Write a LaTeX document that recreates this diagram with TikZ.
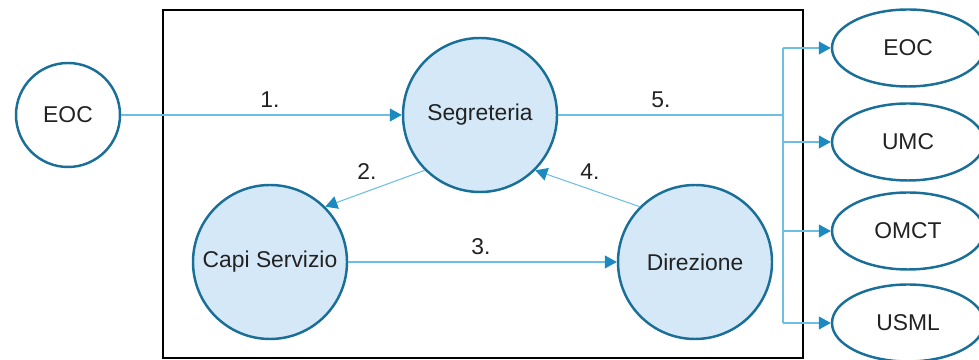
\documentclass[tikz,border=0pt]{standalone}
\usepackage{fontspec}
\setmainfont{Liberation Sans}
\usepackage{tikz}
\usetikzlibrary{positioning,arrows.meta,shapes.geometric}

\definecolor{rimblue}{HTML}{1A6F99}
\definecolor{fillblue}{HTML}{D5E8F7}
\definecolor{lineblue}{HTML}{6CBFE0}
\definecolor{tipblue}{HTML}{1B8AC0}
\definecolor{txtgray}{HTML}{222222}

\tikzset{
  office/.style={circle, draw=rimblue, line width=1.4pt, fill=fillblue,
    minimum size=3.08cm, inner sep=0pt, text=txtgray},
  outside/.style={circle, draw=rimblue, line width=1.4pt, fill=white,
    minimum size=2.08cm, inner sep=0pt, text=txtgray},
  target/.style={ellipse, draw=rimblue, line width=1.4pt, fill=white,
    minimum width=3.04cm, minimum height=1.54cm, inner sep=0pt, text=txtgray},
  flow/.style={draw=lineblue, line width=0.6pt},
  step label/.style={text=txtgray, inner sep=1pt}
}

\begin{document}
\begin{tikzpicture}[>={Triangle[length=0.24cm,width=0.26cm,color=tipblue]},
  font=\fontsize{13}{15}\selectfont]
\useasboundingbox (0,0) rectangle (19.58,7.2);

% frame
\draw[black, line width=0.9pt] (3.26,0.04) rectangle (16.06,7.0);

% inner nodes
\node[office] (Seg) at (9.6,4.9) {Segreteria};
\node[office] (Capi) at (5.4,1.96) {Capi Servizio};
\node[office] (Dir) at (13.9,1.96) {Direzione};

% outer nodes
\node[outside] (EOCin) at (1.36,4.9) {EOC};
\node[target] (R1) at (18.16,6.24) {EOC};
\node[target] (R2) at (18.16,4.36) {UMC};
\node[target] (R3) at (18.16,2.58) {OMCT};
\node[target] (R4) at (18.16,0.74) {USML};

% bus
\coordinate (bus) at (15.66,4.9);
\coordinate (bt) at (15.66,6.24);
\coordinate (bb) at (15.66,0.74);

% arrows
\draw[flow,->] (EOCin) -- (Seg);
\draw[flow,->] (Seg.225) -- (Capi.45);
\draw[flow,->] (Capi) -- (Dir);
\draw[flow,->] (Dir.135) -- (Seg.-45);
\draw[flow] (Seg) -- (bus);
\draw[flow] (bt) -- (bb);
\draw[flow,->] (bt) -- (R1);
\draw[flow,->] (bus |- R2) -- (R2);
\draw[flow,->] (bus |- R3) -- (R3);
\draw[flow,->] (bb) -- (R4);

% step labels
\node[step label] (l1) at (5.4,5.2) {1.};
\node[step label] (l2) at (7.34,3.76) {2.};
\node[step label] (l3) at (9.62,2.26) {3.};
\node[step label] (l4) at (11.8,3.76) {4.};
\node[step label] (l5) at (13.22,5.2) {5.};
\end{tikzpicture}
\end{document}
